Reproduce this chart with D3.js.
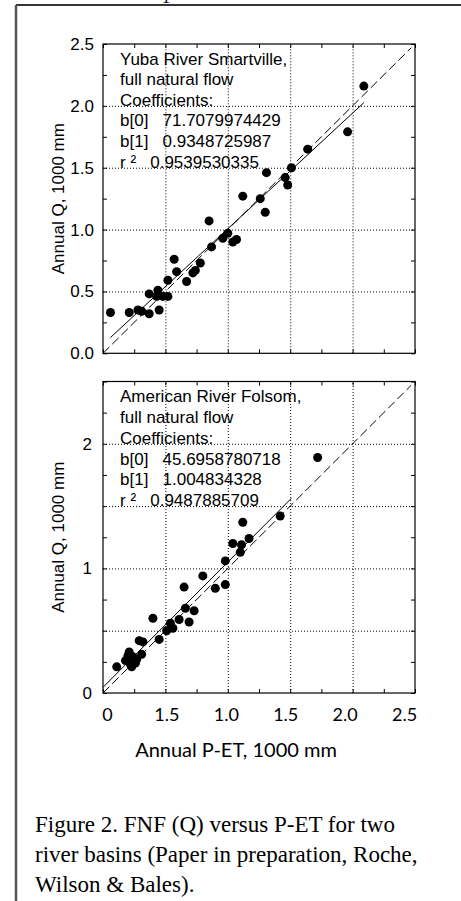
<!DOCTYPE html>
<html>
<head>
<meta charset="utf-8">
<script src="https://cdn.jsdelivr.net/npm/d3@7/dist/d3.min.js"></script>
<style>
body { margin: 0; background: #fff; }
text { fill: #000; }
</style>
</head>
<body>
<div id="chart-area"></div>
<script>

// Yuba River Smartville, full natural flow (1000 mm)
var yubaPET = [0.06, 0.21, 0.28, 0.31, 0.37, 0.45, 0.37, 0.44, 0.43, 0.48, 0.52, 0.52, 0.57, 0.59,
               0.67, 0.72, 0.74, 0.78, 0.85, 0.87, 0.96, 1.00, 1.04, 1.07, 1.12, 1.26, 1.30, 1.31,
               1.46, 1.48, 1.51, 1.64, 1.96, 2.09]
var yubaQ   = [0.33, 0.33, 0.35, 0.34, 0.32, 0.35, 0.48, 0.51, 0.46, 0.46, 0.46, 0.59, 0.76, 0.66,
               0.58, 0.65, 0.67, 0.73, 1.07, 0.86, 0.93, 0.97, 0.90, 0.92, 1.27, 1.25, 1.14, 1.46,
               1.42, 1.36, 1.50, 1.65, 1.79, 2.16]

// American River Folsom, full natural flow (1000 mm)
var americanPET = [0.11, 0.18, 0.21, 0.20, 0.22, 0.23, 0.26, 0.24, 0.27, 0.31, 0.29, 0.32, 0.40, 0.45,
                   0.51, 0.54, 0.56, 0.61, 0.66, 0.69, 0.73, 0.65, 0.80, 0.90, 0.98, 0.98, 1.04, 1.10,
                   1.11, 1.12, 1.17, 1.42, 1.72]
var americanQ   = [0.21, 0.26, 0.33, 0.30, 0.23, 0.21, 0.24, 0.29, 0.27, 0.31, 0.42, 0.41, 0.60, 0.43,
                   0.50, 0.56, 0.52, 0.59, 0.68, 0.57, 0.66, 0.85, 0.94, 0.84, 0.87, 1.06, 1.20, 1.13,
                   1.19, 1.37, 1.24, 1.42, 1.89]

// b[0] (mm), b[1], r²
var yubaCoef = [71.7079974429, 0.9348725987, 0.9539530335]
var americanCoef = [45.6958780718, 1.004834328, 0.9487885709]
var yubaFitRange = [0.06, 2.09]
var americanFitRange = [0, 1.51]
var oneToOne = [0, 2.47]

var yubaNotes = ["Yuba River Smartville,", "full natural flow", "Coefficients:"]
var americanNotes = ["American River Folsom,", "full natural flow", "Coefficients:"]
var coefNames = ["b[0]   ", "b[1]   ", "r \u00b2   "]
var coefText = [["71.7079974429", "0.9348725987", "0.9539530335"],
                ["45.6958780718", "1.004834328", "0.9487885709"]]

var xTickValues = [0, 0.5, 1, 1.5, 2, 2.5]
var xTickLabels = ["0", "1.5", "1.0", "1.5", "2.0", "2.5"]
var yTopValues = [0, 0.5, 1, 1.5, 2, 2.5]
var yTopLabels = ["0.0", "0.5", "1.0", "1.5", "2.0", "2.5"]
var yBottomValues = [0, 1, 2]
var yBottomLabels = ["0", "1", "2"]
var gridValues = [0.5, 1, 1.5, 2]

var width = 461, height = 901
var left = 103, right = 415

var svg = d3.select("#chart-area")
	.append("svg")
	.attr("width", width)
	.attr("height", height)

// page frame
svg.append("line").attr("x1", 16).attr("x2", width).attr("y1", 5).attr("y2", 5)
	.attr("stroke", "#333").attr("stroke-width", 2)
svg.append("line").attr("x1", 16).attr("x2", 16).attr("y1", 5).attr("y2", height)
	.attr("stroke", "#555").attr("stroke-width", 2.5)
svg.append("text").attr("x", 166).attr("y", 3).attr("text-anchor", "middle")
	.attr("font-family", "Liberation Serif").attr("font-size", "17px").text("1")

var x = d3.scaleLinear().domain([0, 2.5]).range([left, right])
var minor = d3.range(0, 2.51, 0.25)

function drawPanel(top, bottom, pet, q, coef, fitRange, notes, coefs, yVals, yLabs, yPad) {
	var y = d3.scaleLinear().domain([0, 2.5]).range([bottom, top])
	var g = svg.append("g")

	// dotted grid
	var gx = g.append("g").attr("transform", "translate(0," + bottom + ")")
		.call(d3.axisBottom(x).tickValues(gridValues).tickSize(-(bottom - top)).tickFormat(""))
	var gy = g.append("g").attr("transform", "translate(" + left + ",0)")
		.call(d3.axisLeft(y).tickValues(gridValues).tickSize(-(right - left)).tickFormat(""))
	;[gx, gy].forEach(function(a) {
		a.select(".domain").remove()
		a.selectAll("line").attr("stroke", "#000").attr("stroke-dasharray", "1,2")
	})

	// inward ticks on all four sides
	var tk = [
		g.append("g").attr("transform", "translate(0," + bottom + ")").call(d3.axisBottom(x).tickValues(minor).tickSize(-4).tickFormat("")),
		g.append("g").attr("transform", "translate(0," + top + ")").call(d3.axisTop(x).tickValues(minor).tickSize(-4).tickFormat("")),
		g.append("g").attr("transform", "translate(" + left + ",0)").call(d3.axisLeft(y).tickValues(minor).tickSize(-4).tickFormat("")),
		g.append("g").attr("transform", "translate(" + right + ",0)").call(d3.axisRight(y).tickValues(minor).tickSize(-4).tickFormat(""))
	]
	tk.forEach(function(a) {
		a.select(".domain").remove()
		a.selectAll("line").attr("stroke", "#000")
	})

	// y labels
	var yl = g.append("g").attr("transform", "translate(" + left + ",0)")
		.call(d3.axisLeft(y).tickValues(yVals).tickSize(0).tickPadding(yPad)
			.tickFormat(function(d, i) { return yLabs[i] }))
	yl.select(".domain").remove()
	yl.selectAll("text").attr("font-family", "Liberation Sans").attr("font-size", "17px").attr("fill", "#000")

	g.append("rect")
		.attr("x", left).attr("y", top)
		.attr("width", right - left).attr("height", bottom - top)
		.attr("fill", "none").attr("stroke", "#000").attr("stroke-width", 1.2)

	// 1:1 line
	g.append("line")
		.attr("x1", x(oneToOne[0])).attr("y1", y(oneToOne[0]))
		.attr("x2", x(oneToOne[1])).attr("y2", y(oneToOne[1]))
		.attr("stroke", "#000").attr("stroke-dasharray", "9,4")

	// fitted line
	var b0 = coef[0] / 1000, b1 = coef[1]
	g.append("line")
		.attr("x1", x(fitRange[0])).attr("y1", y(b0 + b1 * fitRange[0]))
		.attr("x2", x(fitRange[1])).attr("y2", y(b0 + b1 * fitRange[1]))
		.attr("stroke", "#000")

	g.append("g").selectAll("circle")
		.data(pet)
		.enter()
		.append("circle")
		.attr("cx", function(d) { return x(d) })
		.attr("cy", function(d, i) { return y(q[i]) })
		.attr("r", 4.5)
		.attr("fill", "#000")

	// notes, lines line up with the 2.0 and 1.5 grid lines
	var step = (y(1.5) - y(2)) / 3
	var lines = notes.concat(coefNames.map(function(n, i) { return n + coefs[i] }))
	g.append("g").selectAll("text")
		.data(lines)
		.enter()
		.append("text")
		.attr("x", left + 17)
		.attr("y", function(d, i) { return y(2) + (i - 2) * step })
		.attr("font-family", "Liberation Sans")
		.attr("font-size", "17px")
		.style("white-space", "pre")
		.text(function(d) { return d })

	g.append("text")
		.attr("transform", "rotate(-90)")
		.attr("x", -(top + bottom) / 2)
		.attr("y", 64)
		.attr("text-anchor", "middle")
		.attr("font-family", "Liberation Sans")
		.attr("font-size", "17px")
		.text("Annual Q, 1000 mm")

	return y
}

drawPanel(44, 353.3, yubaPET, yubaQ, yubaCoef, yubaFitRange, yubaNotes, coefText[0],
	yTopValues, yTopLabels, 9)
drawPanel(381.5, 693, americanPET, americanQ, americanCoef, americanFitRange, americanNotes, coefText[1],
	yBottomValues, yBottomLabels, 11)

// x labels sit under the lower panel, slightly off the tick positions
var xLab = d3.scaleLinear().domain([0, 2.5]).range([107, 404])
var xa = svg.append("g").attr("transform", "translate(0,708)")
	.call(d3.axisBottom(xLab).tickValues(xTickValues).tickSize(0).tickPadding(0)
		.tickFormat(function(d, i) { return xTickLabels[i] }))
xa.select(".domain").remove()
xa.selectAll("text").attr("font-family", "Lato").attr("font-size", "18px").attr("fill", "#000")

svg.append("text")
	.attr("x", 236)
	.attr("y", 757)
	.attr("text-anchor", "middle")
	.attr("font-family", "Lato")
	.attr("font-size", "20px")
	.text("Annual P-ET, 1000 mm")

var caption = ["Figure 2. FNF (Q) versus P-ET for two",
	"river basins (Paper in preparation, Roche,",
	"Wilson & Bales)."]
svg.append("g").selectAll("text")
	.data(caption)
	.enter()
	.append("text")
	.attr("x", 35)
	.attr("y", function(d, i) { return 832 + i * 30 })
	.attr("font-family", "Liberation Serif")
	.attr("font-size", "23px")
	.text(function(d) { return d })

</script>
</body>
</html>
